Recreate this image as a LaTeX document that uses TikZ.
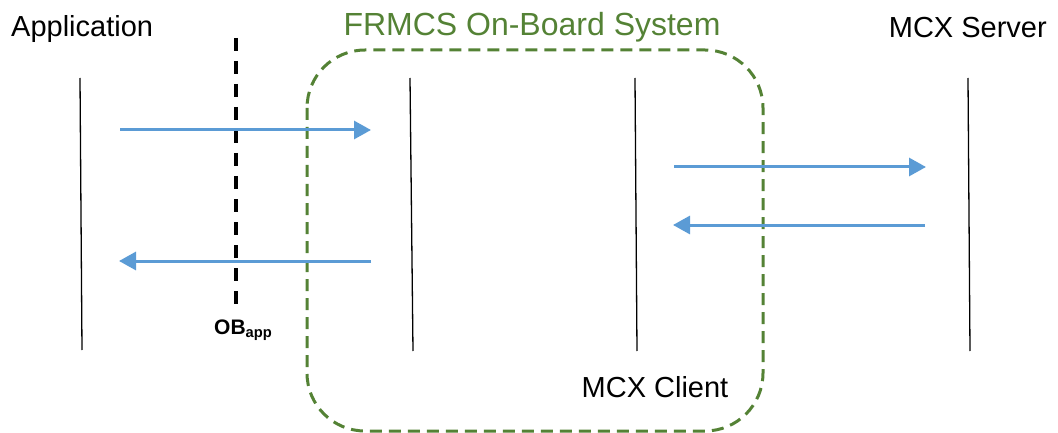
\documentclass[tikz,border=0pt]{standalone}
\usepackage{fontspec}
\setmainfont{Liberation Sans}
\usepackage{tikz}
\usepackage{xcolor}
\usetikzlibrary{arrows.meta, positioning}

\definecolor{msgblue}{RGB}{91,155,213}
\definecolor{obgreen}{RGB}{84,130,53}

\begin{document}
\begin{tikzpicture}[
    x=1pt, y=-1pt,
    label/.style={font=\fontsize{29}{30}\selectfont, inner sep=0pt, anchor=base},
    lifeline/.style={draw, line width=1.3pt},
    msg/.style={draw=msgblue, line width=3pt, -{Triangle[length=17pt, width=18pt]}},
    refpoint/.style={draw, line width=4pt, dash pattern=on 13pt off 10pt},
    sysbox/.style={draw=obgreen, line width=3pt, dash pattern=on 12pt off 7pt, rounded corners=58pt}
]
  \useasboundingbox (0,0) rectangle (1058,433);

  % On-board system boundary (dashed, rounded)
  \draw[sysbox] (307,50) rectangle (763,431);
  \node[label, font=\fontsize{32}{34}\selectfont, text=obgreen] (frmcs) at (532,36) {FRMCS On-Board System};

  % Entity names
  \node[label, anchor=base west] (app) at (11,37) {Application};
  \node[label, anchor=base east] (server) at (1047,38) {MCX Server};
  \node[label] (client) at (655,397) {MCX Client};

  % Lifelines
  \coordinate (apptop) at (80,78);   \coordinate (appbot) at (82,350);
  \coordinate (gwtop) at (410,78);   \coordinate (gwbot) at (413,351);
  \coordinate (clitop) at (635,78);  \coordinate (clibot) at (637,351);
  \coordinate (srvtop) at (968,78);  \coordinate (srvbot) at (970,351);
  \draw[lifeline] (apptop) -- (appbot);
  \draw[lifeline] (gwtop) -- (gwbot);
  \draw[lifeline] (clitop) -- (clibot);
  \draw[lifeline] (srvtop) -- (srvbot);

  % Reference point OB_app
  \coordinate (obtop) at (236,38);
  \coordinate (obbot) at (236,308);
  \draw[refpoint] (obtop) -- (obbot);
  \node[font=\fontsize{21}{22}\selectfont\bfseries, inner sep=0pt, below right=12pt and -22pt of obbot] (ob) {OB\textsubscript{app}};

  % Messages
  \coordinate (m1a) at (120,130); \coordinate (m1b) at (371,130);
  \coordinate (m2a) at (371,261); \coordinate (m2b) at (119,261);
  \coordinate (m3a) at (674,167); \coordinate (m3b) at (926,167);
  \coordinate (m4a) at (925,225); \coordinate (m4b) at (673,225);
  \draw[msg] (m1a) -- (m1b);
  \draw[msg] (m2a) -- (m2b);
  \draw[msg] (m3a) -- (m3b);
  \draw[msg] (m4a) -- (m4b);

\end{tikzpicture}
\end{document}
